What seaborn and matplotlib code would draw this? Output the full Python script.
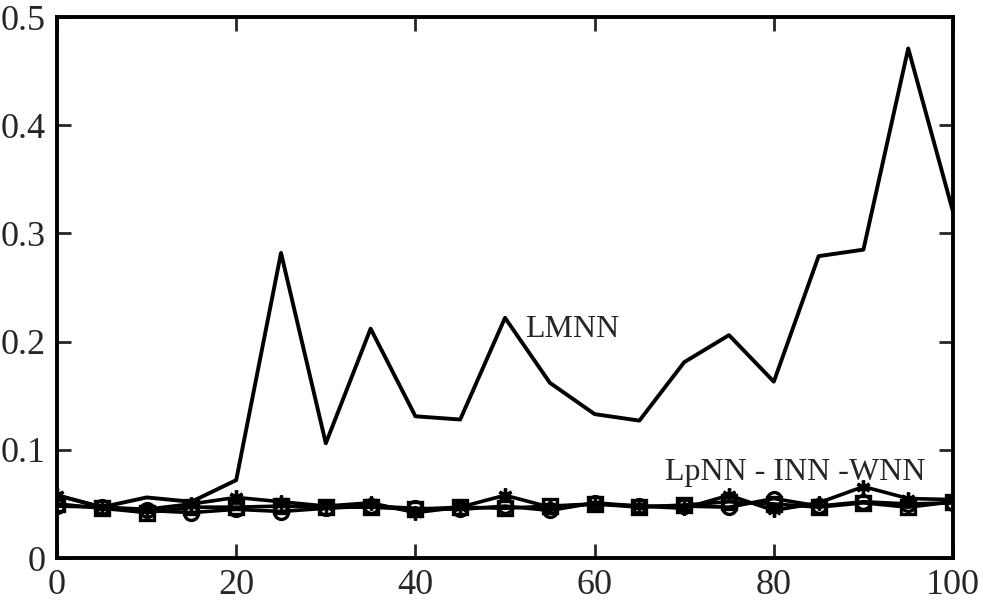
import numpy as np
import pandas as pd
import matplotlib
matplotlib.use("Agg")
import matplotlib.pyplot as plt
import seaborn as sns

# sample sizes along the x axis
x_vals = [0, 5, 10, 15, 20, 25, 30, 35, 40, 45, 50, 55, 60, 65, 70, 75, 80, 85, 90, 95, 100]

# error rates
lmnn = [0.058, 0.047, 0.056, 0.052, 0.072, 0.282, 0.106, 0.212, 0.131, 0.128, 0.222,
        0.162, 0.133, 0.127, 0.181, 0.206, 0.163, 0.279, 0.285, 0.471, 0.320]
lpnn = [0.058, 0.047, 0.045, 0.050, 0.056, 0.052, 0.048, 0.051, 0.042, 0.047, 0.058,
        0.047, 0.050, 0.048, 0.046, 0.058, 0.044, 0.051, 0.066, 0.055, 0.054]
inn = [0.048, 0.047, 0.044, 0.042, 0.045, 0.043, 0.046, 0.048, 0.046, 0.045, 0.048,
       0.044, 0.051, 0.048, 0.048, 0.047, 0.055, 0.048, 0.052, 0.050, 0.051]
wnn = [0.050, 0.046, 0.042, 0.047, 0.047, 0.048, 0.047, 0.047, 0.045, 0.047, 0.046,
       0.048, 0.050, 0.047, 0.049, 0.052, 0.050, 0.047, 0.051, 0.047, 0.052]

x_ticks = [0, 20, 40, 60, 80, 100]
y_ticks = [0, 0.1, 0.2, 0.3, 0.4, 0.5]
y_tick_labels = ["0", "0.1", "0.2", "0.3", "0.4", "0.5"]


def main():
    sns.set_style("ticks")
    plt.rcParams["font.family"] = ["Liberation Serif", "DejaVu Serif"]

    df = pd.DataFrame({"x": x_vals, "LMNN": lmnn, "LpNN": lpnn, "INN": inn, "WNN": wnn})

    fig, ax = plt.subplots(figsize=(9.83, 6.01), dpi=100)
    fig.subplots_adjust(left=0.058, right=0.9695, bottom=0.0715, top=0.9717)

    # the three near-flat methods, all black with different markers
    markers = {"LpNN": (6, 2, 0), "INN": "o", "WNN": "s"}
    for name, mk in markers.items():
        sns.lineplot(data=df, x="x", y=name, ax=ax, color="black", lw=2.6,
                     marker=mk, markersize=10, markerfacecolor="none",
                     markeredgecolor="black", markeredgewidth=2.4)
    sns.lineplot(data=df, x="x", y="LMNN", ax=ax, color="black", lw=2.8)

    ax.set_xlim(0, 100)
    ax.set_ylim(0, 0.5)
    ax.set_xticks(x_ticks)
    ax.set_xticklabels([str(t) for t in x_ticks])
    ax.set_yticks(y_ticks)
    ax.set_yticklabels(y_tick_labels)
    ax.set_xlabel("")
    ax.set_ylabel("")

    ax.tick_params(direction="in", length=10, width=2, labelsize=26,
                   top=True, right=True, pad=8)
    for s in ax.spines.values():
        s.set_linewidth(2.8)
        s.set_color("black")

    ax.text(52.2, 0.211, "LMNN", fontsize=23, va="center", ha="left")
    ax.text(67.8, 0.0795, "LpNN - INN -WNN", fontsize=23, va="center", ha="left")

    plt.savefig("out.png", dpi=100)
    plt.close()


if __name__ == "__main__":
    main()
